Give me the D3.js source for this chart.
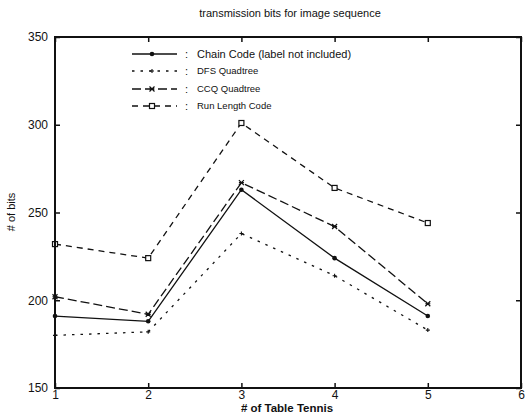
<!DOCTYPE html>
<meta charset="utf-8">
<head>
<script src="https://d3js.org/d3.v7.min.js"></script>
<style>
  body { margin: 0; background: #fff; }
  text { font-family: "Liberation Sans", Arial, sans-serif; fill: #111; }
</style>
</head>
<body>
<svg id="chart"></svg>
<script>
// frames (table tennis sequence index)
var frames = [1, 2, 3, 4, 5];

// transmission bits per method
var chainCode = [191, 188, 263, 224, 191];
var dfsQuadtree = [180, 182, 238, 214, 183];
var ccqQuadtree = [202, 192, 267, 242, 198];
var runLength = [232, 224, 301, 264, 244];

var xTicks = [1, 2, 3, 4, 5, 6];
var yTicks = [150, 200, 250, 300, 350];

var legendLabels = ["Chain Code  (label not included)", "DFS Quadtree", "CCQ Quadtree", "Run Length Code"];

var W = 532, H = 419;
var svg = d3.select("#chart").attr("width", W).attr("height", H);

var pLeft = 55, pRight = 521, pTop = 37, pBottom = 388;

var x = d3.scaleLinear().domain([1, 6]).range([pLeft, pRight]);
var y = d3.scaleLinear().domain([150, 350]).range([pBottom, pTop]);

// series definitions
var series = [
  {vals: chainCode, dash: null, marker: "dot"},
  {vals: dfsQuadtree, dash: "2.5,6", marker: "plus"},
  {vals: ccqQuadtree, dash: "9,4", marker: "star"},
  {vals: runLength, dash: "6,5", marker: "square"}
];

var line = d3.line().x(function(d, i){ return x(frames[i]); }).y(function(d){ return y(d); });

series.forEach(function(s){
  svg.append("path")
    .datum(s.vals)
    .attr("d", line)
    .attr("fill", "none")
    .attr("stroke", "#111")
    .attr("stroke-width", 1.3)
    .attr("stroke-dasharray", s.dash);
});

function drawMarker(g, type, cx, cy){
  if (type == "dot") {
    g.append("circle").attr("cx", cx).attr("cy", cy).attr("r", 2.3).attr("fill", "#111");
  } else if (type == "plus") {
    g.append("path").attr("d", "M"+(cx-2)+","+cy+"h4M"+cx+","+(cy-2)+"v4")
      .attr("stroke", "#111").attr("stroke-width", 1.1);
  } else if (type == "star") {
    g.append("path").attr("d", "M"+(cx-2.5)+","+(cy-2.5)+"l5,5M"+(cx-2.5)+","+(cy+2.5)+"l5,-5M"+(cx-2.5)+","+cy+"h5")
      .attr("stroke", "#111").attr("stroke-width", 1.2);
  } else if (type == "square") {
    g.append("rect").attr("x", cx-2.5).attr("y", cy-2.5).attr("width", 5).attr("height", 5)
      .attr("fill", "#fff").attr("stroke", "#111").attr("stroke-width", 1.2);
  }
}

var mk = svg.append("g");
series.forEach(function(s){
  s.vals.forEach(function(v, i){
    drawMarker(mk, s.marker, x(frames[i]), y(v));
  });
});

// frame
svg.append("rect")
  .attr("x", pLeft).attr("y", pTop)
  .attr("width", pRight-pLeft).attr("height", pBottom-pTop)
  .attr("fill", "none").attr("stroke", "#111").attr("stroke-width", 2);

// axes with inward ticks
var xAxis = svg.append("g").attr("transform", "translate(0," + pBottom + ")")
  .call(d3.axisBottom(x).tickValues(xTicks).tickSize(-5).tickPadding(2).tickFormat(d3.format("d")));
svg.append("g").attr("transform", "translate(0," + pTop + ")")
  .call(d3.axisTop(x).tickValues(xTicks).tickSize(-5).tickFormat(""));
var yAxis = svg.append("g").attr("transform", "translate(" + pLeft + ",0)")
  .call(d3.axisLeft(y).tickValues(yTicks).tickSize(-5).tickPadding(7).tickFormat(d3.format("d")));
svg.append("g").attr("transform", "translate(" + pRight + ",0)")
  .call(d3.axisRight(y).tickValues(yTicks).tickSize(-5).tickFormat(""));

svg.selectAll(".domain").remove();
svg.selectAll(".tick line").attr("stroke", "#111").attr("stroke-width", 1.5);
svg.selectAll(".tick text").attr("font-size", 12).attr("fill", "#111");

// legend
var legY = [54, 71, 89, 106];
var lg = svg.append("g");
series.forEach(function(s, i){
  lg.append("line").attr("x1", 132).attr("x2", 177).attr("y1", legY[i]).attr("y2", legY[i])
    .attr("stroke", "#111").attr("stroke-width", 1.3).attr("stroke-dasharray", s.dash);
  drawMarker(lg, s.marker, 152, legY[i]);
  lg.append("text").attr("x", 185).attr("y", legY[i]).attr("dy", "0.35em")
    .attr("font-size", 11).text(":");
  lg.append("text").attr("x", 197).attr("y", legY[i]).attr("dy", "0.35em")
    .attr("font-size", i == 0 ? 11 : 9.5).text(legendLabels[i]);
});

// titles
svg.append("text").attr("x", 290).attr("y", 17).attr("text-anchor", "middle")
  .attr("font-size", 11).text("transmission  bits for image sequence");
svg.append("text").attr("x", 287).attr("y", 412).attr("text-anchor", "middle")
  .attr("font-size", 11.5).attr("font-weight", "bold").text("# of Table Tennis");
svg.append("text").attr("transform", "translate(15,212) rotate(-90)").attr("text-anchor", "middle")
  .attr("font-size", 11).text("# of bits");
</script>
</body>
